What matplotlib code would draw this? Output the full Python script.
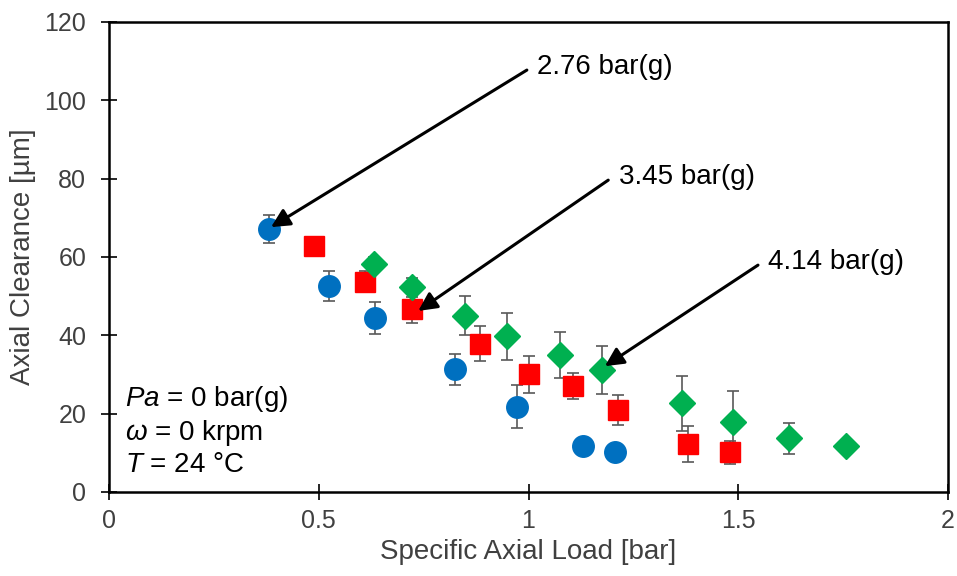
import matplotlib
matplotlib.use("Agg")
import matplotlib.pyplot as plt

plt.rcParams['font.family'] = ['Liberation Sans', 'DejaVu Sans']
plt.rcParams['mathtext.fontset'] = 'custom'
plt.rcParams['mathtext.rm'] = 'Liberation Sans'
plt.rcParams['mathtext.it'] = 'Liberation Sans:italic'

# 2.76 bar(g) - blue circles
x_276 = [0.381, 0.524, 0.634, 0.825, 0.972, 1.130, 1.206]
y_276 = [67.1, 52.6, 44.4, 31.3, 21.8, 11.7, 10.1]
e_276 = [3.6, 3.8, 4.0, 4.0, 5.5, 0.0, 0.0]

# 3.45 bar(g) - red squares
x_345 = [0.488, 0.609, 0.723, 0.884, 1.001, 1.106, 1.214, 1.381, 1.481]
y_345 = [62.8, 53.7, 46.8, 37.8, 30.0, 27.0, 20.9, 12.2, 10.1]
e_345 = [0.0, 2.7, 3.8, 4.5, 4.7, 3.4, 3.9, 4.5, 3.0]

# 4.14 bar(g) - green diamonds
x_414 = [0.631, 0.723, 0.849, 0.949, 1.075, 1.176, 1.366, 1.487, 1.620, 1.757]
y_414 = [58.1, 52.2, 45.0, 39.8, 35.0, 31.1, 22.6, 17.8, 13.7, 11.6]
e_414 = [2.0, 2.5, 4.9, 6.0, 5.8, 6.2, 7.0, 8.0, 3.9, 0.0]

labels = ['2.76 bar(g)', '3.45 bar(g)', '4.14 bar(g)']
arrow_tips = [(0.386, 67.6), (0.737, 46.2), (1.182, 32.1)]
text_pos = [(0.996, 107.7), (1.19, 79.6), (1.547, 57.9)]

fig = plt.figure(figsize=(9.57, 5.76), dpi=100)
ax = fig.add_axes([0.114, 0.146, 0.8766, 0.816])

err_kw = dict(ecolor='#595959', elinewidth=1.2, capsize=4.5, capthick=1.2, linestyle='none')
ax.errorbar(x_276, y_276, yerr=e_276, fmt='o', color='#0070C0', ms=15.5, mec='#0070C0', **err_kw)
ax.errorbar(x_345, y_345, yerr=e_345, fmt='s', color='#FF0000', ms=14.5, mec='#FF0000', **err_kw)
ax.errorbar(x_414, y_414, yerr=e_414, fmt='D', color='#00B050', ms=13, mec='#00B050', **err_kw)

for lab, tip, pos in zip(labels, arrow_tips, text_pos):
    ax.annotate('', xy=tip, xytext=pos,
                arrowprops=dict(arrowstyle='-|>', color='black', lw=2.2,
                                mutation_scale=28, shrinkA=0, shrinkB=0))
    ax.text(pos[0] + 0.025, pos[1] + 0.8, lab, fontsize=20, color='black',
            ha='left', va='center')

ax.text(0.038, 23.6, r'$\mathit{Pa}$ = 0 bar(g)', fontsize=20, va='center')
ax.text(0.038, 15.0, r'$\mathit{\omega}$ = 0 krpm', fontsize=20, va='center')
ax.text(0.038, 6.8, r'$\mathit{T}$ = 24 °C', fontsize=20, va='center')

ax.set_xlim(0, 2)
ax.set_ylim(0, 120)
ax.set_xticks([0, 0.5, 1, 1.5, 2])
ax.set_xticklabels(['0', '0.5', '1', '1.5', '2'])
ax.set_yticks(range(0, 121, 20))
for s in ax.spines.values():
    s.set_linewidth(1.8)
    s.set_color('black')
ax.tick_params(direction='inout', length=11, width=1.2, labelsize=18,
               labelcolor='#404040')
ax.tick_params(axis='x', pad=7)
ax.tick_params(axis='y', pad=11)
ax.set_xlabel('Specific Axial Load [bar]', fontsize=20, color='#404040', labelpad=4)
ax.set_ylabel('Axial Clearance [µm]', fontsize=20, color='#404040', labelpad=6)

fig.savefig('out.png', dpi=100)
